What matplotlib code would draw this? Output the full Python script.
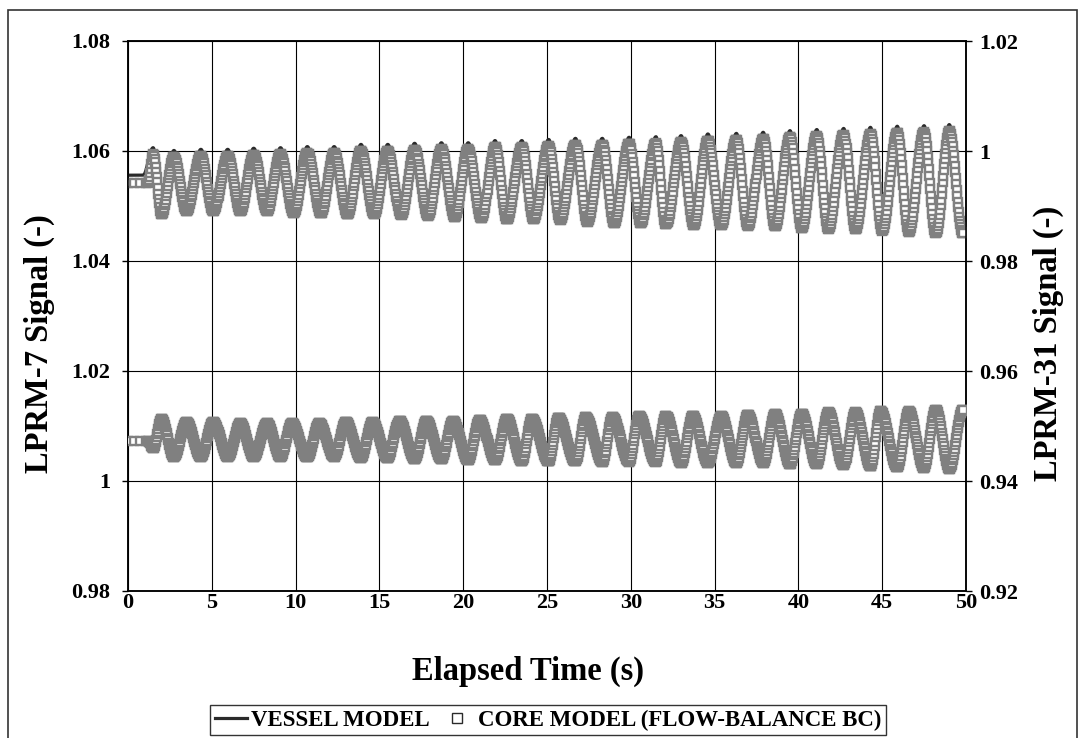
import numpy as np
import matplotlib
matplotlib.use("Agg")
import matplotlib.pyplot as plt
from matplotlib.patches import Rectangle
from matplotlib.lines import Line2D

# ---------------- data ----------------
# LPRM-7 (left axis): times of peaks / troughs (s)
UP_PEAK_T = [1.5, 2.74, 4.35, 5.95, 7.5, 9.1, 10.7, 12.3, 13.9, 15.5, 17.1, 18.7,
             20.3, 21.9, 23.5, 25.1, 26.7, 28.3, 29.9, 31.5, 33.0, 34.6, 36.3,
             37.9, 39.5, 41.1, 42.7, 44.3, 45.9, 47.5, 49.0]
UP_TROUGH_T = [2.0, 3.5, 5.1, 6.7, 8.3, 9.9, 11.5, 13.1, 14.7, 16.3, 17.9, 19.5,
               21.1, 22.6, 24.2, 25.8, 27.4, 29.0, 30.6, 32.1, 33.75, 35.4, 37.0,
               38.6, 40.2, 41.8, 43.4, 45.0, 46.6, 48.2, 49.8]
# vessel-model peak values
UP_PEAK_V = [1.0606, 1.0601, 1.0603, 1.0603, 1.0605, 1.0606, 1.0608, 1.0608,
             1.0612, 1.0612, 1.0614, 1.0615, 1.0615, 1.0619, 1.0619, 1.0621,
             1.0623, 1.0623, 1.0625, 1.0626, 1.0628, 1.0631, 1.0632, 1.0634,
             1.0637, 1.0639, 1.0641, 1.0643, 1.0645, 1.0646, 1.0648]
# core-model trough values
UP_TROUGH_V = [1.0485, 1.0491, 1.0491, 1.0491, 1.0491, 1.0487, 1.0487, 1.0485,
               1.0485, 1.0484, 1.0482, 1.0480, 1.0478, 1.0476, 1.0476, 1.0475,
               1.0471, 1.0469, 1.0469, 1.0467, 1.0465, 1.0465, 1.0464, 1.0463,
               1.0460, 1.0458, 1.0458, 1.0455, 1.0453, 1.0451, 1.0451]
UP_CORE_SHIFT = 0.0012          # core model sits slightly below vessel model
UP_VESSEL_START = 1.0556
UP_CORE_START = 1.0542
UP_VESSEL_END = 1.0480

# LPRM-31 (right axis)
LO_TROUGH_T = [1.5, 2.74, 4.35, 5.95, 7.5, 9.1, 10.7, 12.3, 13.9, 15.5, 17.1,
               18.7, 20.3, 21.9, 23.5, 25.1, 26.7, 28.3, 29.9, 31.5, 33.0, 34.6,
               36.3, 37.9, 39.5, 41.1, 42.7, 44.3, 45.9, 47.5, 49.0]
LO_PEAK_T = [2.0, 3.5, 5.1, 6.7, 8.3, 9.8, 11.4, 13.0, 14.6, 16.2, 17.8, 19.4,
             21.0, 22.6, 24.1, 25.7, 27.3, 28.9, 30.5, 32.1, 33.7, 35.4, 37.0,
             38.6, 40.2, 41.8, 43.4, 44.9, 46.6, 48.2, 49.8]
LO_PEAK_V = [0.9513, 0.9507, 0.9507, 0.9505, 0.9505, 0.9505, 0.9505, 0.9507,
             0.9507, 0.9509, 0.9509, 0.9509, 0.9511, 0.9513, 0.9513, 0.9515,
             0.9516, 0.9516, 0.9518, 0.9518, 0.9518, 0.9518, 0.9520, 0.9522,
             0.9522, 0.9525, 0.9525, 0.9527, 0.9527, 0.9529, 0.9529]
LO_TROUGH_V = [0.9460, 0.9444, 0.9444, 0.9444, 0.9444, 0.9444, 0.9444, 0.9444,
               0.9442, 0.9442, 0.9440, 0.9440, 0.9438, 0.9438, 0.9436, 0.9436,
               0.9436, 0.9435, 0.9435, 0.9435, 0.9433, 0.9433, 0.9433, 0.9433,
               0.9431, 0.9431, 0.9429, 0.9427, 0.9425, 0.9424, 0.9422]
LO_START = 0.9473
LO_END = 0.9515

OSC_START_VESSEL = 0.9   # s, end of steady state
OSC_START_CORE = 1.2
CORE_COARSE_T = [0.0, 0.35, 0.7, 1.05]   # sparse core samples before the oscillation

X_TICKS = [0, 5, 10, 15, 20, 25, 30, 35, 40, 45, 50]
Y_LEFT_TICKS = [0.98, 1.00, 1.02, 1.04, 1.06, 1.08]
Y_LEFT_LABELS = ["0.98", "1", "1.02", "1.04", "1.06", "1.08"]
Y_RIGHT_TICKS = [0.92, 0.94, 0.96, 0.98, 1.00, 1.02]
Y_RIGHT_LABELS = ["0.92", "0.94", "0.96", "0.98", "1", "1.02"]

LEGEND_LABELS = ["VESSEL MODEL", "CORE MODEL (FLOW-BALANCE BC)"]


# ---------------- helpers ----------------
def knots(start_v, t0, peak_t, peak_v, trough_t, trough_v, end_v=None):
    t = list(peak_t) + list(trough_t)
    v = list(peak_v) + list(trough_v)
    order = np.argsort(t)
    kt = [0.0, t0] + [t[i] for i in order]
    kv = [start_v, start_v] + [v[i] for i in order]
    if end_v is not None:
        kt.append(50.0)
        kv.append(end_v)
    return np.array(kt), np.array(kv)


def smooth_through(kt, kv, t):
    """half-cosine segments between successive extrema"""
    idx = np.clip(np.searchsorted(kt, t, side="right") - 1, 0, len(kt) - 2)
    t0, t1 = kt[idx], kt[idx + 1]
    v0, v1 = kv[idx], kv[idx + 1]
    s = np.clip((t - t0) / (t1 - t0), 0, 1)
    return v0 + (v1 - v0) * (1 - np.cos(np.pi * s)) / 2


up_peak_core = [p - UP_CORE_SHIFT for p in UP_PEAK_V]
up_trough_vessel = [p + UP_CORE_SHIFT for p in UP_TROUGH_V]

kt_uv, kv_uv = knots(UP_VESSEL_START, OSC_START_VESSEL, UP_PEAK_T, UP_PEAK_V,
                     UP_TROUGH_T, up_trough_vessel, UP_VESSEL_END)
kt_uc, kv_uc = knots(UP_CORE_START, OSC_START_CORE, UP_PEAK_T, up_peak_core,
                     UP_TROUGH_T, UP_TROUGH_V)
kt_lv, kv_lv = knots(LO_START, OSC_START_VESSEL, LO_PEAK_T, LO_PEAK_V,
                     LO_TROUGH_T, LO_TROUGH_V, LO_END)
kt_lc, kv_lc = knots(LO_START, OSC_START_CORE, LO_PEAK_T, LO_PEAK_V,
                     LO_TROUGH_T, LO_TROUGH_V)

t_vessel = np.arange(0, 50.0001, 0.01)
t_core = np.concatenate([CORE_COARSE_T, np.arange(OSC_START_CORE, 49.85, 0.03)])

# ---------------- figure ----------------
plt.rcParams["font.family"] = ["Liberation Serif", "DejaVu Serif"]
plt.rcParams["font.weight"] = "bold"

fig = plt.figure(figsize=(10.8, 7.38), dpi=100)
W, H = 1080, 738
ax = fig.add_axes([128 / W, 1 - 591 / H, (966 - 128) / W, (591 - 41) / H])
ax2 = ax.twinx()

VESSEL_COLOR = "#2a2a2a"
CORE_COLOR = "#808080"
MS, MEW = 5.8, 1.7

ax.plot(t_vessel, smooth_through(kt_uv, kv_uv, t_vessel), color=VESSEL_COLOR,
        lw=2.3, zorder=3)
ax.plot(t_core, smooth_through(kt_uc, kv_uc, t_core), ls="none", marker="s",
        ms=MS, mfc="white", mec=CORE_COLOR, mew=MEW, zorder=4)

ax2.plot(t_vessel, smooth_through(kt_lv, kv_lv, t_vessel), color=VESSEL_COLOR,
         lw=2.3, zorder=3)
ax2.plot(t_core, smooth_through(kt_lc, kv_lc, t_core), ls="none", marker="s",
         ms=MS, mfc="white", mec=CORE_COLOR, mew=MEW, zorder=4)

ax.set_xlim(0, 50)
ax.set_ylim(0.98, 1.08)
ax2.set_ylim(0.92, 1.02)
ax.set_xticks(X_TICKS)
ax.set_xticklabels([str(x) for x in X_TICKS])
ax.set_yticks(Y_LEFT_TICKS)
ax.set_yticklabels(Y_LEFT_LABELS)
ax2.set_yticks(Y_RIGHT_TICKS)
ax2.set_yticklabels(Y_RIGHT_LABELS)

ax.grid(True, color="black", lw=0.8)
ax.set_axisbelow(True)
for a in (ax, ax2):
    for sp in a.spines.values():
        sp.set_linewidth(1.1)
        sp.set_color("black")
ax.tick_params(axis="y", direction="out", length=4.5, width=1, labelsize=16,
               pad=8.5)
ax.tick_params(axis="x", direction="out", length=0, width=1, labelsize=16,
               pad=1.5)
ax2.tick_params(axis="y", direction="out", length=4.5, width=1, labelsize=16,
                pad=5)

LABEL_FS = 23.5
ax.set_xlabel("Elapsed Time (s)", fontsize=LABEL_FS, fontweight="bold")
ax.xaxis.set_label_coords(0.477, -0.118)
ax.set_ylabel("LPRM-7 Signal (-)", fontsize=LABEL_FS, fontweight="bold")
ax.yaxis.set_label_coords(-0.087, 0.45)
ax2.set_ylabel("LPRM-31 Signal (-)", fontsize=LABEL_FS, fontweight="bold")
ax2.yaxis.set_label_coords(1.08, 0.45)

handles = [Line2D([], [], color=VESSEL_COLOR, lw=2.3),
           Line2D([], [], ls="none", marker="s", ms=6.5, mfc="white",
                  mec=VESSEL_COLOR, mew=1.0)]
leg = fig.legend(handles, LEGEND_LABELS, loc="center",
                 bbox_to_anchor=(548 / W, 1 - 720 / H), ncol=2, frameon=True,
                 fancybox=False, edgecolor="black", fontsize=16.5,
                 handlelength=1.4, handletextpad=0.2, columnspacing=0.5,
                 borderpad=0.2, borderaxespad=0)
leg.get_frame().set_linewidth(1.0)
for txt in leg.get_texts():
    txt.set_fontweight("bold")

# outer chart border
fig.patches.append(Rectangle((8 / W, -0.05), (1077 - 8) / W, 1.05 - 10 / H,
                             transform=fig.transFigure, fill=False,
                             edgecolor="#333333", lw=1.2))

fig.savefig("out.png", dpi=100)
